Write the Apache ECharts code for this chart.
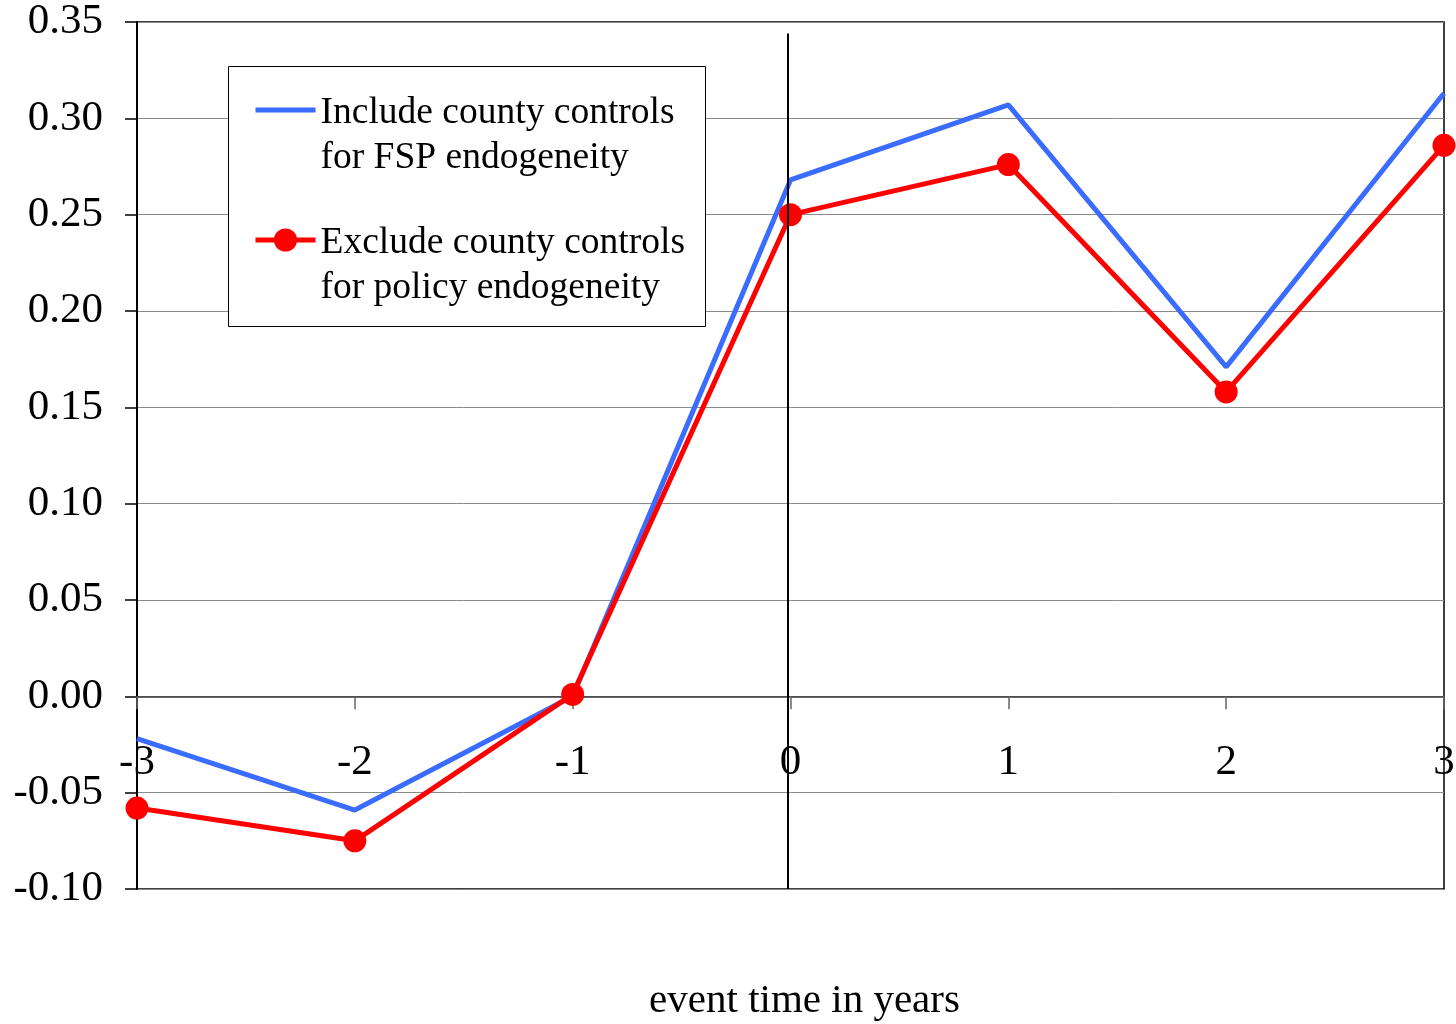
<!DOCTYPE html>
<html>
<head>
<meta charset="utf-8">
<title>Event study: county controls</title>
<script src="https://cdn.jsdelivr.net/npm/echarts@6/dist/echarts.min.js"></script>
<style>
  html, body { margin: 0; padding: 0; background: #ffffff; }
  #chart { width: 1456px; height: 1024px; }
</style>
</head>
<body>
<div id="chart"></div>
<script>
// Event time (years relative to the event)
const eventYears = [-3, -2, -1, 0, 1, 2, 3];

// Estimated coefficients by event year
const includeControls = [-0.022, -0.059, 0.000, 0.268, 0.307, 0.171, 0.313];
const excludeControls = [-0.058, -0.075, 0.001, 0.250, 0.276, 0.158, 0.286];

const seriesNames = [
  'Include county controls\nfor FSP endogeneity',
  'Exclude county controls\nfor policy endogeneity'
];

// Reference line marking the event date
const eventLineX = -0.012;
const eventLineSpan = [0.344, -0.1];

const serif = '"Liberation Serif", "Times New Roman", serif';

const toPairs = (xs, ys) => xs.map((x, i) => [x, ys[i]]);

const chart = echarts.init(document.getElementById('chart'), null, { renderer: 'canvas' });

// Legend entries: a blank leading line keeps the icon level with the first text line
const legendBase = {
  orient: 'vertical',
  left: 253,
  padding: 0,
  itemWidth: 60, itemHeight: 29,
  itemGap: 0,
  selectedMode: false,
  formatter: name => '{g| }\n' + name,
  lineStyle: { width: 5 },
  textStyle: {
    fontFamily: serif,
    fontSize: 37.5,
    color: '#000',
    lineHeight: 45,
    rich: {
      g: { lineHeight: 52, fontSize: 10 }
    }
  },
  z: 5
};

chart.setOption({
  animation: false,
  backgroundColor: '#ffffff',
  grid: {
    left: 137, right: 12, top: 22, bottom: 135,
    outerBoundsMode: 'none',
    containLabel: false,
    show: true,
    borderColor: '#000',
    borderWidth: 1.5,
    backgroundColor: 'transparent'
  },
  graphic: [{
    type: 'rect',
    left: 228, top: 66,
    shape: { width: 477, height: 260 },
    style: { fill: '#ffffff', stroke: '#000', lineWidth: 1 },
    z: 1
  }],
  legend: [
    Object.assign({}, legendBase, { data: [seriesNames[0]], top: 39 }),
    Object.assign({}, legendBase, { data: [seriesNames[1]], top: 169 })
  ],
  xAxis: {
    type: 'value',
    min: -3, max: 3, interval: 1,
    name: 'event time in years',
    nameLocation: 'middle',
    nameGap: 92,
    nameTextStyle: { fontFamily: serif, fontSize: 41, color: '#000', padding: [0, 0, 0, 28] },
    axisLine: { onZero: true, lineStyle: { color: '#3a3a3a', width: 1.5 } },
    axisTick: { show: true, inside: false, length: 13, lineStyle: { color: '#666', width: 1.5 } },
    // tick labels sit just under the zero line
    axisLabel: { fontFamily: serif, fontSize: 43, color: '#000', margin: -148 },
    splitLine: { show: false }
  },
  yAxis: {
    type: 'value',
    min: -0.1, max: 0.35, interval: 0.05,
    axisLine: { show: true, onZero: false, lineStyle: { color: '#000', width: 2 } },
    axisTick: { show: true, inside: false, length: 12, lineStyle: { color: '#000', width: 1.5 } },
    axisLabel: {
      fontFamily: serif, fontSize: 43, color: '#000', margin: 34,
      formatter: v => v.toFixed(2)
    },
    splitLine: { show: true, lineStyle: { color: '#8a8a8a', width: 1 } }
  },
  series: [
    {
      name: seriesNames[0],
      type: 'line',
      data: toPairs(eventYears, includeControls),
      symbol: 'none',
      lineStyle: { color: '#3a6cff', width: 5 },
      itemStyle: { color: '#3a6cff', opacity: 0 },
      z: 2
    },
    {
      name: seriesNames[1],
      type: 'line',
      data: toPairs(eventYears, excludeControls),
      symbol: 'circle',
      symbolSize: 23,
      lineStyle: { color: '#ff0000', width: 5 },
      itemStyle: { color: '#ff0000' },
      z: 3,
      markLine: {
        silent: true,
        symbol: 'none',
        label: { show: false },
        lineStyle: { color: '#000', width: 2, type: 'solid' },
        data: [[
          { coord: [eventLineX, eventLineSpan[0]] },
          { coord: [eventLineX, eventLineSpan[1]] }
        ]]
      }
    }
  ]
});
</script>
</body>
</html>
